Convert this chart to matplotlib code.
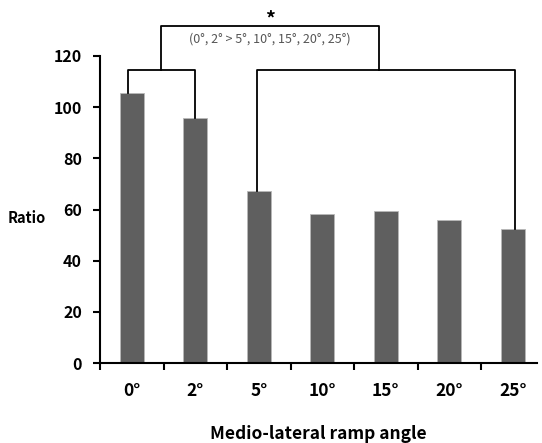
import matplotlib
matplotlib.use("Agg")
import matplotlib.pyplot as plt
import numpy as np

angles = ["0°", "2°", "5°", "10°", "15°", "20°", "25°"]
ratio = [105.4, 95.6, 67.2, 58.4, 59.4, 55.8, 52.2]
yticks = [0, 20, 40, 60, 80, 100, 120]
note = "(0°, 2° > 5°, 10°, 15°, 20°, 25°)"

plt.rcParams["font.family"] = ["Noto Sans CJK KR", "DejaVu Sans"]


def main():
    fig = plt.figure(figsize=(5.42, 4.43), dpi=100)
    ax = fig.add_axes([100 / 542, 80 / 443, 437 / 542, 307 / 443])

    x = np.arange(len(angles))
    ax.bar(x, ratio, width=0.38, color="#5f5f5f", edgecolor="#b8b8b8", linewidth=0.6)

    ax.set_xlim(-0.5, 6.38)
    ax.set_ylim(0, 120)
    ax.set_yticks(yticks)
    ax.set_yticklabels([str(v) for v in yticks], fontsize=11.5, fontweight="bold")
    ax.set_xticks(x)
    ax.set_xticklabels(angles, fontsize=12.5, fontweight="bold")
    ax.set_xticks(np.arange(-0.5, 6.0, 1.0), minor=True)
    ax.tick_params(axis="x", which="major", length=0, pad=14)
    ax.tick_params(axis="x", which="minor", length=5, width=1.5, direction="out")
    ax.tick_params(axis="y", length=5, width=1.5, direction="out", pad=8)
    for s in ["top", "right"]:
        ax.spines[s].set_visible(False)
    for s in ["left", "bottom"]:
        ax.spines[s].set_linewidth(1.5)

    ax.set_xlabel("Medio-lateral ramp angle", fontsize=12.5, fontweight="bold", labelpad=18)
    fig.text(8 / 542, 1 - 218 / 443, "Ratio", fontsize=10.5, fontweight="bold", va="center", ha="left")

    # significance brackets
    lw = 1.3
    yb = 114.5
    ax.plot([-0.06, -0.06, 0.99, 0.99], [ratio[0], yb, yb, ratio[1]], color="k", lw=lw, clip_on=False)
    ax.plot([1.97, 1.97, 6.03, 6.03], [ratio[2], yb, yb, ratio[6]], color="k", lw=lw, clip_on=False)
    yt = 131.7
    ax.plot([0.46, 0.46, 3.89, 3.89], [yb, yt, yt, yb], color="k", lw=lw, clip_on=False)
    ax.text(2.17, 126.8, note, fontsize=9, color="#555555", ha="center", va="center")
    ax.text(2.17, 134.5, "*", fontsize=14, fontweight="bold", ha="center", va="center")

    fig.savefig("out.png", dpi=100)


if __name__ == "__main__":
    main()
